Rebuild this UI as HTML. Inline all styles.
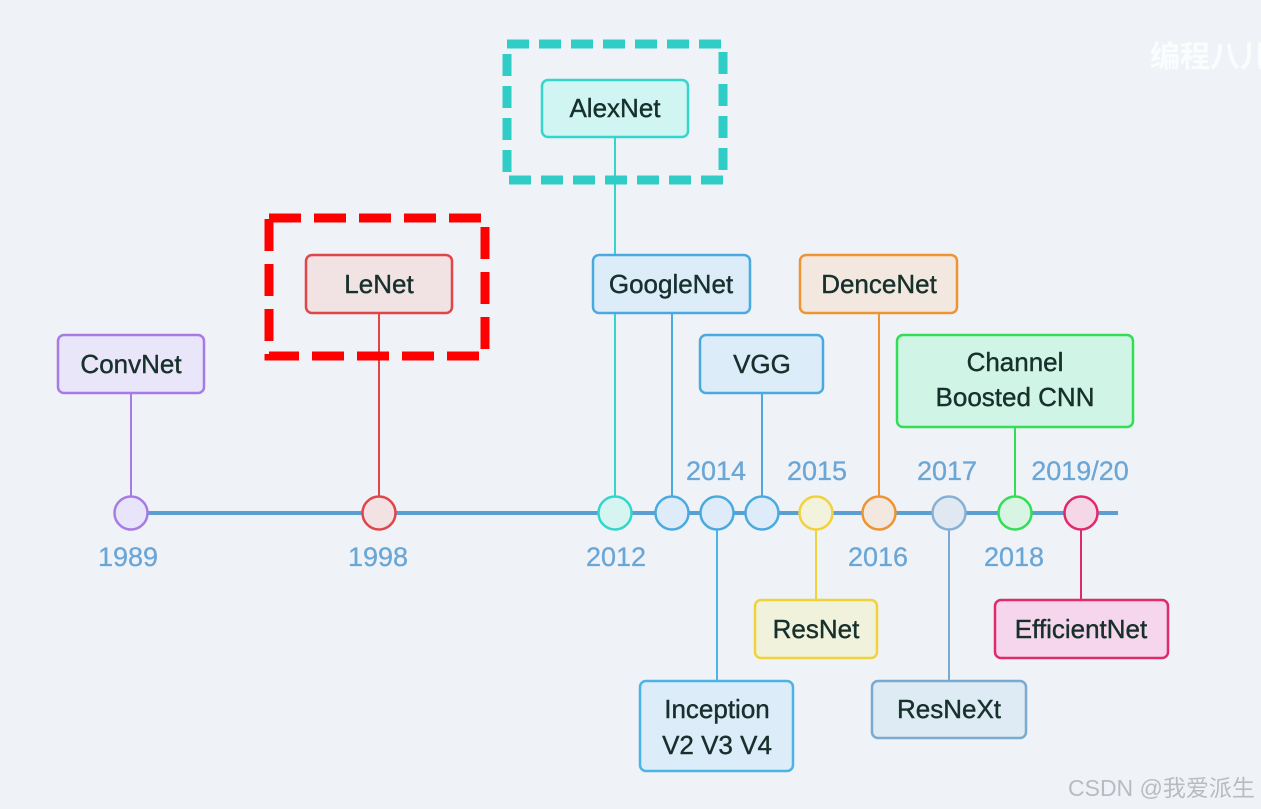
<!DOCTYPE html>
<html><head><meta charset="utf-8"><style>
html,body{margin:0;padding:0;background:#eff3f8;}
svg{display:block;}
text{font-family:"Liberation Sans","Noto Sans CJK SC",sans-serif;}
.t{font-size:26px;fill:#17302c;text-anchor:middle;stroke:#17302c;stroke-width:0.4;}
.y{font-size:27px;fill:#6aa6d6;text-anchor:middle;stroke:#6aa6d6;stroke-width:0.3;}
</style></head><body>
<svg width="1261" height="809" viewBox="0 0 1261 809" xmlns="http://www.w3.org/2000/svg">
<rect width="1261" height="809" fill="#eff3f8"/>
<text x="1150" y="67" font-size="30" font-weight="bold" fill="#fbfcfd" style="font-family:'Noto Sans CJK SC',sans-serif">编程八儿</text>
<g stroke-width="2" fill="none">
<line x1="131" y1="393" x2="131" y2="497" stroke="#a77be6"/>
<line x1="379" y1="313" x2="379" y2="497" stroke="#e0454a"/>
<line x1="615" y1="137" x2="615" y2="255" stroke="#33d6cc"/>
<line x1="615" y1="313" x2="615" y2="497" stroke="#33d6cc"/>
<line x1="672" y1="313" x2="672" y2="497" stroke="#4aaae0"/>
<line x1="762" y1="393" x2="762" y2="497" stroke="#4aaae0"/>
<line x1="879" y1="313" x2="879" y2="497" stroke="#ee9433"/>
<line x1="1015" y1="427" x2="1015" y2="497" stroke="#33dd55"/>
<line x1="717" y1="529" x2="717" y2="681" stroke="#4ab4e6"/>
<line x1="816" y1="529" x2="816" y2="600" stroke="#f2d23a"/>
<line x1="949" y1="529" x2="949" y2="681" stroke="#7aaad0"/>
<line x1="1081" y1="529" x2="1081" y2="600" stroke="#e02a6a"/>
</g>
<line x1="148" y1="513" x2="1118" y2="513" stroke="#5b9fd2" stroke-width="4"/>
<g stroke-width="2.5">
<circle cx="131" cy="513" r="16.5" fill="#e8e4fa" stroke="#a77be6"/>
<circle cx="379" cy="513" r="16.5" fill="#f2e2e4" stroke="#e0454a"/>
<circle cx="615" cy="513" r="16.5" fill="#d6f5f1" stroke="#33d6cc"/>
<circle cx="672" cy="513" r="16.5" fill="#deebf8" stroke="#4aaae0"/>
<circle cx="717" cy="513" r="16.5" fill="#deebf8" stroke="#4aaae0"/>
<circle cx="762" cy="513" r="16.5" fill="#deebf8" stroke="#4aaae0"/>
<circle cx="816" cy="513" r="16.5" fill="#f3f2dc" stroke="#f2d23a"/>
<circle cx="879" cy="513" r="16.5" fill="#f3e8e0" stroke="#ee9433"/>
<circle cx="949" cy="513" r="16.5" fill="#e0e9f2" stroke="#88b0d4"/>
<circle cx="1015" cy="513" r="16.5" fill="#d8f5e4" stroke="#33dd55"/>
<circle cx="1081" cy="513" r="16.5" fill="#f5d8e8" stroke="#e02a6a"/>
</g>
<g stroke-width="2.5">
<rect x="58" y="335" width="146" height="58" rx="6" fill="#e9e6fa" stroke="#a77be6"/>
<rect x="306" y="255" width="146" height="58" rx="6" fill="#f1e2e4" stroke="#e0454a"/>
<rect x="542" y="80" width="146" height="57" rx="6" fill="#d0f5f3" stroke="#33d6cc"/>
<rect x="593" y="255" width="157" height="58" rx="6" fill="#dcecf9" stroke="#4aaae0"/>
<rect x="700" y="335" width="123" height="58" rx="6" fill="#dcecf9" stroke="#4aaae0"/>
<rect x="800" y="255" width="157" height="58" rx="6" fill="#f3e8e0" stroke="#ee9433"/>
<rect x="897" y="335" width="236" height="92" rx="6" fill="#d0f5e6" stroke="#33dd55"/>
<rect x="640" y="681" width="153" height="90" rx="6" fill="#dcecf9" stroke="#4ab4e6"/>
<rect x="755" y="600" width="122" height="58" rx="6" fill="#f0f2dc" stroke="#f2d23a"/>
<rect x="872" y="681" width="154" height="57" rx="6" fill="#deeaf4" stroke="#7aaad0"/>
<rect x="995" y="600" width="173" height="58" rx="6" fill="#f5d6ec" stroke="#e02a6a"/>
</g>
<rect x="269" y="218" width="216" height="138" fill="none" stroke="#ff0000" stroke-width="9" stroke-dasharray="32,13"/>
<rect x="507" y="44" width="216" height="136" fill="none" stroke="#2fcdc6" stroke-width="9" stroke-dasharray="22,10"/>
<text class="t" x="131" y="373">ConvNet</text>
<text class="t" x="379" y="293">LeNet</text>
<text class="t" x="615" y="117">AlexNet</text>
<text class="t" x="671" y="293">GoogleNet</text>
<text class="t" x="762" y="373">VGG</text>
<text class="t" x="879" y="293">DenceNet</text>
<text class="t" x="1015" y="371">Channel</text>
<text class="t" x="1015" y="406">Boosted CNN</text>
<text class="t" x="717" y="718">Inception</text>
<text class="t" x="717" y="754">V2 V3 V4</text>
<text class="t" x="816" y="638">ResNet</text>
<text class="t" x="949" y="718">ResNeXt</text>
<text class="t" x="1081" y="638">EfficientNet</text>
<text class="y" x="128" y="566">1989</text>
<text class="y" x="378" y="566">1998</text>
<text class="y" x="616" y="566">2012</text>
<text class="y" x="716" y="480">2014</text>
<text class="y" x="817" y="480">2015</text>
<text class="y" x="878" y="566">2016</text>
<text class="y" x="947" y="480">2017</text>
<text class="y" x="1014" y="566">2018</text>
<text class="y" x="1080" y="480">2019/20</text>
<text x="1068" y="796" font-size="23" fill="#b8bcc0" style="font-family:'Liberation Sans','Noto Sans CJK SC',sans-serif">CSDN @我爱派生</text>
</svg>
</body></html>
